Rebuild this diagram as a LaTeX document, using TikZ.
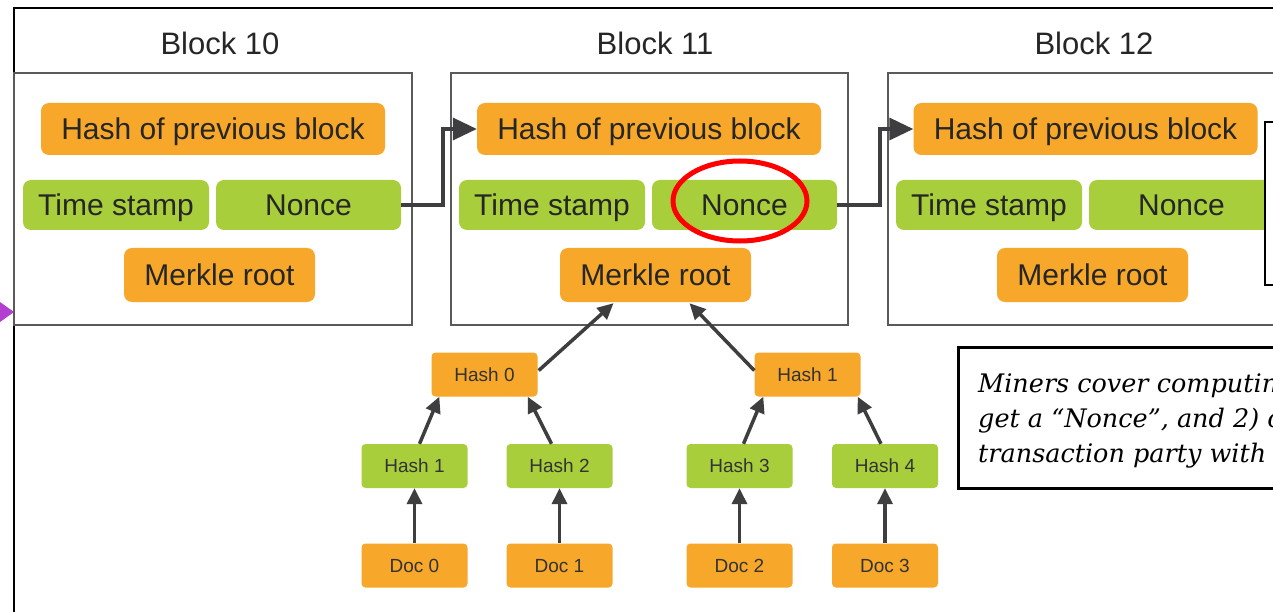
\documentclass[tikz,border=0pt]{standalone}
\usepackage{fontspec}
\setmainfont{Liberation Sans}
\newfontfamily\annotfont{DejaVu Serif}
\usetikzlibrary{arrows.meta,shapes.geometric,calc}
\definecolor{borange}{HTML}{F7A729}
\definecolor{bgreen}{HTML}{A9CE3B}
\definecolor{bgrey}{HTML}{5A5A5A}
\definecolor{bdark}{HTML}{3E3E40}
\definecolor{bpurple}{HTML}{B23FD0}
\begin{document}
\begin{tikzpicture}[x=1pt,y=-1pt,
  bigbox/.style={rectangle,rounded corners=8pt,inner sep=0pt,text=black!85,
    text height=21.5pt,text depth=0pt,
    font=\fontsize{30}{30}\selectfont},
  obox/.style={bigbox,fill=borange},
  gbox/.style={bigbox,fill=bgreen},
  smallbox/.style={rectangle,rounded corners=4pt,inner sep=0pt,text=black!80,
    text height=13.6pt,text depth=0pt,
    minimum width=106pt,minimum height=44pt,font=\fontsize{19}{19}\selectfont},
  sobox/.style={smallbox,fill=borange},
  sgbox/.style={smallbox,fill=bgreen},
  blockframe/.style={draw=bgrey,line width=2pt,fill=white},
  title/.style={font=\fontsize{31}{31}\selectfont,text=black!85},
  link/.style={draw=bdark,line width=3.5pt,-{Triangle[length=24pt,width=22pt]}},
  tarr/.style={draw=bdark,line width=3.5pt,-{Triangle[length=16pt,width=15pt]}},
  annot/.style={font=\annotfont\itshape\fontsize{25.5}{35}\selectfont,anchor=base west,inner sep=0pt}
]
\useasboundingbox (0,0) rectangle (1273,612);
\clip (0,0) rectangle (1273,612);
\fill[white] (0,0) rectangle (1273,612);

% outer frame
\draw[line width=2.5pt,black] (14,640) -- (14,8) -- (1300,8);
\fill[bpurple] (0,302) -- (14,312) -- (0,322) -- cycle;

% titles
\node[title] (t10) at (220,43) {Block 10};
\node[title] (t11) at (655,43) {Block 11};
\node[title] (t12) at (1094,43) {Block 12};

% block frames
\draw[blockframe] (14,73) rectangle (412,325);
\draw[blockframe] (451,73) rectangle (848,325);
\draw[blockframe] (888,73) rectangle (1300,325);

% block 10
\node[obox,minimum width=344pt,minimum height=52pt] (hash10) at (213,129) {Hash of previous block};
\node[gbox,minimum width=186pt,minimum height=50pt] (time10) at (116,205) {Time stamp};
\node[gbox,minimum width=185pt,minimum height=50pt] (nonce10) at (308.5,205) {Nonce};
\node[obox,minimum width=191pt,minimum height=54pt] (merkle10) at (219.5,275) {Merkle root};

% block 11
\node[obox,minimum width=344pt,minimum height=52pt] (hash11) at (649,129) {Hash of previous block};
\node[gbox,minimum width=186pt,minimum height=50pt] (time11) at (552,205) {Time stamp};
\node[gbox,minimum width=185pt,minimum height=50pt] (nonce11) at (744.5,205) {Nonce};
\node[obox,minimum width=191pt,minimum height=54pt] (merkle11) at (655.5,275) {Merkle root};

% block 12
\node[obox,minimum width=344pt,minimum height=52pt] (hash12) at (1085.5,129) {Hash of previous block};
\node[gbox,minimum width=186pt,minimum height=50pt] (time12) at (989,205) {Time stamp};
\node[gbox,minimum width=185pt,minimum height=50pt] (nonce12) at (1181.5,205) {Nonce};
\node[obox,minimum width=191pt,minimum height=54pt] (merkle12) at (1092.5,275) {Merkle root};

% chain links
\draw[link] (nonce10.east) -- ++(42,0) |- (hash11.west);
\draw[link] (nonce11.east) -- ++(43,0) |- (hash12.west);

% red ellipse
\node[draw=red,line width=5pt,ellipse,minimum width=134pt,minimum height=80pt,inner sep=0pt] (ring) at (740,201) {};

% merkle tree
\node[sobox] (h0) at (484.5,374.5) {Hash 0};
\node[sobox] (hh1) at (807.5,374.5) {Hash 1};
\node[sgbox] (g1) at (414.5,466) {Hash 1};
\node[sgbox] (g2) at (559.5,466) {Hash 2};
\node[sgbox] (g3) at (739.5,466) {Hash 3};
\node[sgbox] (g4) at (885,466) {Hash 4};
\node[sobox] (d0) at (414.5,565.5) {Doc 0};
\node[sobox] (d1) at (559.5,565.5) {Doc 1};
\node[sobox] (d2) at (739.5,565.5) {Doc 2};
\node[sobox] (d3) at (885,565.5) {Doc 3};

\draw[tarr] (d0) -- (g1);
\draw[tarr] (d1) -- (g2);
\draw[tarr] (d2) -- (g3);
\draw[tarr] (d3) -- (g4);
\draw[tarr] ($(g1.north)+(5,0)$) -- ($(h0.south west)+(8,0)$);
\draw[tarr] ($(g2.north)+(-8,0)$) -- ($(h0.south east)+(-10,0)$);
\draw[tarr] ($(g3.north)+(4,0)$) -- ($(hh1.south west)+(9,0)$);
\draw[tarr] ($(g4.north)+(-4,0)$) -- ($(hh1.south east)+(-3,0)$);
\draw[tarr] ($(h0.east)+(1,-4)$) -- ($(merkle11.south)+(-42,1)$);
\draw[tarr] ($(hh1.west)+(0,-4)$) -- ($(merkle11.south)+(34,1)$);

% right boxes (cut off)
\draw[black,line width=2.5pt,fill=white] (1265,122) rectangle (1300,285);
\draw[black,line width=3pt,fill=white] (958,347) rectangle (1300,488);
\node[annot] (l1) at (978,392) {Miners cover computing};
\node[annot] (l2) at (978,427) {get a “Nonce”, and 2) c};
\node[annot] (l3) at (978,462) {transaction party with};
\end{tikzpicture}
\end{document}
